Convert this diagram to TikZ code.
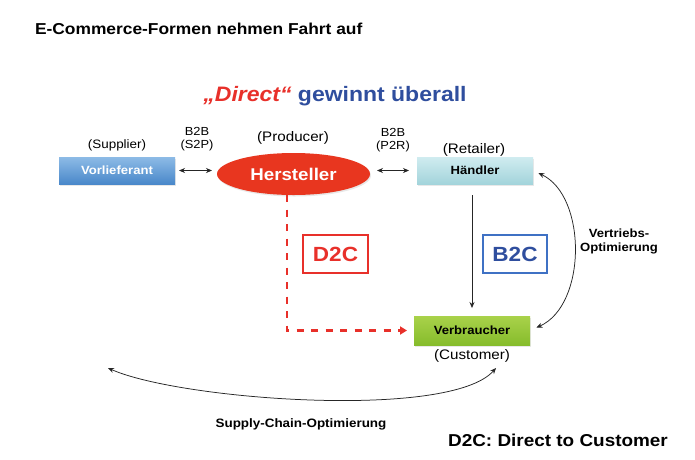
\documentclass[tikz,border=0pt]{standalone}
\usepackage{fontspec}
\setmainfont{Liberation Sans}[FakeStretch=1.1]
\usetikzlibrary{arrows.meta,shapes.geometric,shadows}

\definecolor{hred}{HTML}{E8361F}
\definecolor{dred}{HTML}{E8302A}
\definecolor{hblue}{HTML}{2F4E9E}
\definecolor{bblue}{HTML}{3F71C4}
\definecolor{vtop}{HTML}{8DBBE6}
\definecolor{vbot}{HTML}{4A88CA}
\definecolor{htop}{HTML}{D0ECF0}
\definecolor{hbot}{HTML}{A3D4DB}
\definecolor{gtop}{HTML}{A9D24A}
\definecolor{gbot}{HTML}{86BC2C}

\newcommand\fs[1]{\fontsize{#1}{#1}\selectfont}

\tikzset{
  every node/.style={inner sep=0pt, outer sep=0pt},
  tip/.style={-{Stealth[length=6pt,width=5pt]}},
  dtip/.style={{Stealth[length=6pt,width=5pt]}-{Stealth[length=6pt,width=5pt]}},
  conn/.style={line width=0.75pt, black!85},
  soft/.style={drop shadow={opacity=0.18, shadow xshift=1pt, shadow yshift=-1.5pt}},
  rolebox/.style={soft, minimum width=116pt, minimum height=27pt, font=\fs{11.9}\bfseries},
  caption/.style={font=\fs{13.8}, anchor=base},
  tag/.style={font=\fs{11.7}, align=center},
  kindbox/.style={draw, line width=1.6pt, minimum width=64pt, minimum height=38pt, font=\fs{20.5}\bfseries},
  note/.style={font=\fs{11.9}\bfseries, align=center}
}

\begin{document}
\begin{tikzpicture}[x=1pt,y=-1pt]
\useasboundingbox (0,0) rectangle (695,459);
\fill[white] (0,0) rectangle (695,459);

% headings
\node[anchor=base west, font=\fs{15.8}\bfseries] (title) at (35,34) {E-Commerce-Formen nehmen Fahrt auf};
\node[anchor=base, font=\fs{20.9}\bfseries] (head) at (335,101)
  {\textcolor{dred}{\itshape „Direct“} \textcolor{hblue}{gewinnt überall}};

% the four parties
\node[rolebox, top color=vtop, bottom color=vbot, text=white] (vor) at (117,170.5) {Vorlieferant};
\node[ellipse, soft, fill=hred, minimum width=153pt, minimum height=42pt, text=white, font=\fs{17}\bfseries] (hers) at (293.5,174) {Hersteller};
\node[rolebox, top color=htop, bottom color=hbot, text=black] (hand) at (475,170.5) {Händler};
\node[rolebox, minimum height=29pt, top color=gtop, bottom color=gbot, text=black] (verb) at (472,330.5) {Verbraucher};

% role captions
\node[caption, font=\fs{12.2}] (sup) at (117,148) {(Supplier)};
\node[caption] (prod) at (293,141.7) {(Producer)};
\node[caption] (ret) at (474,153.3) {(Retailer)};
\node[caption] (cust) at (472,359.3) {(Customer)};

% B2B tags
\node[tag, anchor=base] (s2p) at (197,148) {B2B\\[1pt](S2P)};
\node[tag, anchor=base] (p2r) at (393,149) {B2B\\[1pt](P2R)};

% channel boxes
\node[kindbox, draw=dred, text=dred, minimum width=65pt] (d2c) at (335.5,254) {D2C};
\node[kindbox, draw=bblue, text=hblue] (b2c) at (515,254) {B2C};

% connectors
\draw[conn, dtip, shorten <=4pt, shorten >=5pt] (vor.east) -- (vor.east -| hers.west);
\draw[conn, dtip, shorten <=7pt, shorten >=8pt] (hers.east |- hand.west) -- (hand.west);
\draw[conn, tip, shorten <=11pt, shorten >=8pt] (hand.south -| verb.north) -- (verb.north);
\draw[dred, line width=2.2pt, dash pattern=on 7pt off 7.5pt,
      -{Triangle[length=7pt,width=8pt]}, shorten >=7pt]
  ([xshift=-6.5pt]hers.south) |- (verb.west);
\draw[conn, dtip, shorten <=6pt, shorten >=7pt]
  (hand.east) .. controls (587,196) and (587,305) .. (verb.east);

\coordinate (scL) at (108,368);
\coordinate (scR) at (496,368);
\draw[conn, dtip] (scL) .. controls (180,400) and (450,420) .. (scR);

% labels of the optimisation loops
\node[note, anchor=base] (vo) at (619,251) {Vertriebs-\\[1.5pt]Optimierung};
\node[note, anchor=base, font=\fs{12.2}\bfseries] (sc) at (301,427.3) {Supply-Chain-Optimierung};
\node[anchor=base, font=\fs{17.2}\bfseries] (legend) at (558,446.7) {D2C: Direct to Customer};
\end{tikzpicture}
\end{document}
